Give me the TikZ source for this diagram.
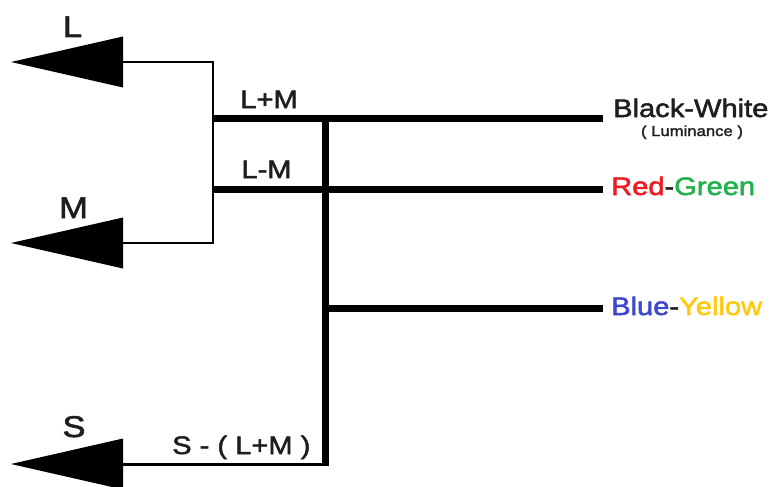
\documentclass[tikz,border=0pt]{standalone}
\usepackage{fontspec}
\setmainfont{Liberation Sans}[FakeStretch=1.15,FakeBold=2]
\usetikzlibrary{arrows.meta}
\definecolor{ink}{HTML}{1E1E1E}
\definecolor{cred}{HTML}{ED1C24}
\definecolor{cgreen}{HTML}{22B14C}
\definecolor{cblue}{HTML}{3F48CC}
\definecolor{cyellow}{HTML}{FFC90E}
\tikzset{
  cone/.style={font=\fontsize{30}{33}\selectfont, inner sep=0pt, text=ink},
  lbl/.style={font=\fontsize{25.3}{28}\selectfont, inner sep=0pt, text=ink},
  small/.style={font=\fontsize{14.5}{16}\selectfont, inner sep=0pt, text=ink},
  thinw/.style={line width=2.2pt, line join=miter},
  sline/.style={line width=3pt},
  channel/.style={line width=7pt},
  cone tip/.tip={Triangle[length=112pt,width=51pt,line width=0pt]}
}
\begin{document}
\begin{tikzpicture}[x=1pt,y=-1pt]
\useasboundingbox (0,0) rectangle (771,487);

% cone outputs and junctions
\coordinate (Ltip) at (11,62);
\coordinate (Mtip) at (11,243);
\coordinate (Stip) at (11,464);
\coordinate (jtop) at (213,62);
\coordinate (jbot) at (213,243);
\coordinate (lmA) at (212,118);
\coordinate (lmB) at (212,189);
\coordinate (bwEnd) at (603,118);
\coordinate (rgEnd) at (603,189);
\coordinate (vTop) at (325,118);
\coordinate (vMid) at (325,308);
\coordinate (vBot) at (325,466);
\coordinate (sJoin) at (325,464);
\coordinate (byEnd) at (603,308);

% L and M cones joined by a thin bracket
\draw[thinw, {cone tip}-{cone tip}] (Ltip) -- (jtop) -- (jbot) -- (Mtip);
% S cone
\draw[sline, -{cone tip}] (sJoin) -- (Stip);

% opponent channels
\draw[channel] (lmA) -- (bwEnd);
\draw[channel] (lmB) -- (rgEnd);
\draw[channel] (vTop) -- (vBot);
\draw[channel] (vMid) -- (byEnd);

% cone labels
\node[cone, anchor=base] (labL) at (72.5,37) {L};
\node[cone, anchor=base] (labM) at (73.5,218) {M};
\node[cone, anchor=base] (labS) at (74,437) {S};

% signal labels
\node[lbl, anchor=base] (sum) at (269,108) {L+M};
\node[lbl, anchor=base] (diff) at (266.5,178) {L-M};
\node[lbl, anchor=base west] (sdiff) at (172,454) {S - ( L+M )};

% channel names
\node[lbl, anchor=base west] (bw) at (613,117) {Black-White};
\node[small, anchor=base] (lum) at (692,136) {( Luminance )};
\node[lbl, anchor=base west] (rg) at (611,195) {\textcolor{cred}{Red}-\textcolor{cgreen}{Green}};
\node[lbl, anchor=base west] (by) at (611,315) {\textcolor{cblue}{Blue}-\textcolor{cyellow}{Yellow}};
\end{tikzpicture}
\end{document}
